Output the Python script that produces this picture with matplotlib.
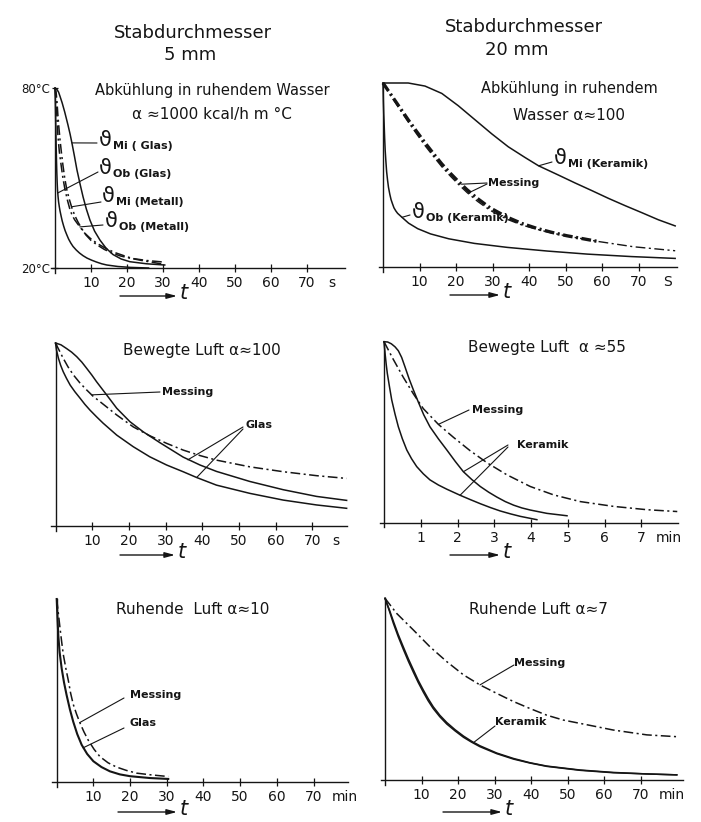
import matplotlib
matplotlib.use("Agg")
import matplotlib.pyplot as plt

W, H = 701, 822
INK = "#151515"
DASHDOT = (0, (7, 2.5, 1.5, 2.5))

plt.rcParams["font.family"] = ["DejaVu Sans"]
plt.rcParams["lines.scale_dashes"] = False

# ---- 5 mm rod, still water (t in s, T in degC)
w5_t_mi_glas = [0, 0.5, 1.0, 1.4, 2.0, 2.7, 3.6, 4.2, 4.7, 5.4, 6.1, 7.0, 7.8, 8.7, 9.7, 11.0,
                12.5, 14.2, 16.1, 18.4, 20.8, 25.5, 30.5]
w5_T_mi_glas = [80, 79.6, 78.6, 77.2, 75.0, 72.0, 67.7, 64.6, 61.7, 57.3, 52.7, 47.8, 43.7, 39.7,
                36.0, 32.3, 29.3, 26.6, 24.5, 23.0, 22.1, 21.4, 21.0]
w5_t_ob_glas = [0, 0.08, 0.15, 0.22, 0.3, 0.4, 0.5, 0.6, 0.7, 0.85, 1.0, 1.2, 1.4, 1.7, 2.0, 2.4,
                2.8, 3.3, 3.8, 4.4, 5.0, 5.9, 6.8, 7.8, 8.9, 10.2, 11.5, 13.0, 14.4, 17.5, 21.0, 26.0]
w5_T_ob_glas = [80, 76, 72, 67, 62, 56.5, 52, 48.6, 46, 43.8, 42, 40.4, 39, 37.3, 35.7, 34, 32.5,
                31, 29.6, 28.3, 27.2, 26, 25, 24.1, 23.3, 22.6, 22, 21.4, 21, 20.5, 20.2, 20.0]
w5_t_mi_met = [0, 0.3, 0.55, 0.8, 1.1, 1.4, 1.8, 2.2, 2.7, 3.3, 4.0, 4.7, 5.5, 6.4, 7.5, 8.6, 10.0,
               11.7, 13.7, 15.8, 18.2, 20.8, 25.5, 30]
w5_T_mi_met = [80, 78.7, 75.5, 71, 66.6, 62.7, 58.3, 54.3, 50, 46, 42.8, 40, 37.5, 35.3, 33, 31,
               29.2, 27.7, 26.2, 25, 24, 23.3, 22.5, 22]
w5_t_ob_met = [0, 0.3, 0.55, 0.8, 1.2, 1.7, 2.2, 2.8, 3.5, 4.2, 4.8, 5.5, 6.9, 8.2, 9.7, 11.7,
               13.9, 16.5, 19.4, 22, 25, 30]
w5_T_ob_met = [80, 76, 70, 64.3, 58.8, 54.3, 50, 46, 42.4, 39.3, 37.5, 36, 33.7, 31.7, 30, 28.2,
               26.7, 25.2, 24, 23, 22.3, 21.3]

# ---- 20 mm rod, still water
w20_t_mi_ker = [0, 6.9, 11.5, 16.1, 20.6, 25.2, 29.8, 34.3, 38.9, 42.6, 48.0, 52.6, 57.2, 61.7,
                66.3, 70.9, 75.4, 80]
w20_T_mi_ker = [80, 80, 79.0, 76.6, 72.6, 68.0, 63.4, 59.2, 55.7, 53.0, 50.0, 47.4, 44.9, 42.4,
                40.0, 37.7, 35.4, 33.4]
w20_t_mes = [0, 2.3, 4.6, 6.9, 9.2, 11.5, 13.8, 16.1, 18.4, 20.7, 23.0, 25.9, 29.3, 33.9, 38.0,
             42.1, 46.2, 50.3, 58.5, 68.6, 80.0]
w20_T_mes_mi = [80, 76.0, 72.0, 68.0, 64.2, 60.5, 57.0, 53.6, 50.6, 47.8, 45.2, 42.3, 39.3, 36.3,
                34.2, 32.6, 31.3, 30.2, 28.4, 26.6, 25.3]
w20_T_mes_ob = [80, 75.6, 71.4, 67.3, 63.4, 59.6, 56.1, 52.7, 49.7, 46.9, 44.3, 41.4, 38.5, 35.6,
                33.7, 32.3, 31.1, 30.1, 28.4, 26.6, 25.3]
w20_t_ob_ker = [0, 0.1, 0.2, 0.3, 0.45, 0.6, 0.8, 1.0, 1.25, 1.5, 1.85, 2.2, 2.6, 3.0, 3.5, 4.0,
                5.2, 7.0, 9.5, 13.0, 18.0, 25.0, 34.0, 45.0, 56.0, 68.0, 80.0]
w20_T_ob_ker = [80, 74, 70, 67, 62, 58, 54.3, 51, 48.3, 46, 43.8, 42, 40.6, 39.3, 38.3, 37.5,
                36.2, 34.3, 32.5, 30.8, 29.2, 27.7, 26.4, 25.2, 24.2, 23.4, 22.8]

# ---- 5 mm rod, moving air (s)
a5_t_glas_mi = [0, 1.5, 3.0, 4.4, 5.8, 7.2, 8.5, 9.9, 11.2, 12.6, 14.0, 16.7, 20.3, 23.9, 28.5,
                34.8, 39.4, 43.9, 53.0, 62.1, 71.2, 79.4]
a5_T_glas_mi = [80, 79.4, 78.2, 77.0, 75.5, 73.7, 71.7, 69.5, 67.3, 65.1, 62.9, 58.6, 54.2, 50.9,
                47.3, 42.6, 40.0, 37.9, 34.6, 31.9, 29.7, 28.4]
a5_t_glas_ob = [0, 0.3, 0.8, 1.4, 2.1, 3.0, 4.0, 5.3, 6.7, 8.0, 9.4, 11.2, 13.0, 16.7, 21.2, 25.7,
                30.3, 34.8, 38.5, 43.9, 53.0, 62.1, 71.2, 79.4]
a5_T_glas_ob = [80, 77.5, 75, 72.7, 70.6, 68.4, 66.2, 64.0, 61.9, 59.9, 58.0, 55.8, 53.7, 49.8,
                46.0, 42.7, 40.0, 37.8, 35.9, 33.4, 30.7, 28.5, 26.9, 25.8]
a5_t_mes = [0, 1.0, 2.1, 3.4, 4.9, 6.6, 8.5, 10.2, 12.1, 16.7, 21.2, 25.7, 30.3, 34.8, 39.4, 43.9,
            53.0, 62.1, 71.2, 79.4]
a5_T_mes = [80, 77.6, 75, 72.2, 69.5, 67.0, 64.6, 62.6, 60.8, 56.4, 52.5, 49.6, 47.1, 44.9, 43.1,
            41.6, 39.4, 37.8, 36.5, 35.6]

# ---- 20 mm rod, moving air (min)
a20_t_ker_mi = [0, 0.1, 0.2, 0.3, 0.39, 0.48, 0.57, 0.68, 0.8, 0.93, 1.08, 1.25, 1.48, 1.71, 1.94,
                2.16, 2.39, 2.62, 2.85, 3.07, 3.3, 3.53, 3.75, 3.98, 4.43, 4.98]
a20_T_ker_mi = [80, 79.9, 79.3, 78.3, 77.0, 74.8, 71.7, 67.8, 64.0, 60.1, 55.8, 51.8, 47.8, 44.1,
                40.3, 36.9, 34.3, 32.0, 30.1, 28.5, 27.0, 25.8, 24.9, 24.2, 23.1, 22.3]
a20_t_ker_ob = [0, 0.03, 0.06, 0.09, 0.15, 0.21, 0.3, 0.39, 0.5, 0.62, 0.75, 0.89, 1.07, 1.25,
                1.48, 1.71, 2.07, 2.34, 2.62, 2.9, 3.16, 3.45, 3.71, 4.16]
a20_T_ker_ob = [80, 76, 72.5, 69.5, 65, 60.7, 56, 51.8, 47.8, 44.1, 41.2, 38.6, 36.2, 34.2, 32.5,
                31.1, 29.1, 27.7, 26.3, 25.0, 23.9, 22.9, 22.1, 21.0]
a20_t_mes = [0, 0.25, 0.53, 0.8, 1.07, 1.48, 1.89, 2.34, 2.8, 3.34, 3.98, 4.62, 5.34, 6.25, 7.16,
             7.98]
a20_T_mes = [80, 74.2, 68.1, 62.7, 57.8, 52.6, 48.3, 43.9, 39.9, 35.9, 32.0, 29.2, 27.0, 25.4,
             24.3, 23.7]

# ---- 5 mm rod, still air (min)
r5_t_glas = [0, 0.2, 0.44, 0.8, 1.36, 2.0, 2.7, 3.6, 4.5, 5.6, 6.8, 8.3, 10.0, 12.2, 14.5, 17.2,
             20.0, 25.4, 30.4]
r5_T_glas = [80, 74, 68, 62.5, 57.2, 52.6, 48.5, 43.8, 39.8, 35.7, 32.2, 29.2, 26.8, 24.9, 23.5,
             22.5, 21.9, 21.3, 21.0]
r5_t_mes = [0, 0.45, 0.9, 1.35, 1.8, 2.5, 3.2, 3.8, 4.5, 5.4, 6.3, 7.4, 8.6, 10.2, 11.8, 14.0,
            16.3, 19.0, 21.8, 26.0, 30.4]
r5_T_mes = [80, 75.3, 70.5, 66, 61.8, 57.2, 53.1, 49.1, 45.5, 42.3, 39.5, 36.5, 33.7, 30.7, 28.3,
            26.3, 24.9, 23.8, 22.9, 22.3, 21.8]

# ---- 20 mm rod, still air (min)
r20_t_ker = [0, 1.2, 2.3, 3.6, 5.0, 6.4, 7.8, 9.1, 10.5, 11.8, 13.2, 15.0, 16.9, 19.2, 21.5, 23.7,
             26.0, 30.6, 35.2, 39.7, 44.3, 53.4, 62.5, 71.7, 79.9]
r20_T_ker_mi = [80, 76.2, 72.4, 68.1, 64.0, 60.0, 56.3, 52.9, 49.7, 46.9, 44.2, 41.4, 39.0, 36.6,
                34.5, 32.8, 31.3, 28.9, 27.1, 25.7, 24.6, 23.3, 22.5, 22.0, 21.7]
r20_T_ker_ob = [80, 75.8, 71.7, 67.4, 63.2, 59.2, 55.5, 52.2, 49.0, 46.2, 43.6, 40.9, 38.5, 36.2,
                34.1, 32.5, 31.0, 28.7, 26.9, 25.6, 24.5, 23.2, 22.4, 22.0, 21.7]
r20_t_mes = [0, 3.2, 7.8, 12.3, 16.9, 21.5, 26.0, 30.6, 35.2, 39.7, 44.3, 48.8, 53.4, 62.5, 71.7,
             79.9]
r20_T_mes = [80, 75.0, 69.5, 64.0, 59.1, 54.7, 51.4, 48.6, 45.9, 43.6, 41.4, 39.8, 38.7, 36.5,
             34.9, 34.3]

x_ticks_s = [10, 20, 30, 40, 50, 60, 70]
x_ticks_min = [1, 2, 3, 4, 5, 6, 7]


def fpx(x, y):
    # picture pixel (top-left origin) -> figure pixels
    return (x, H - y)


def ftext(x, y, s, **kw):
    kw.setdefault("color", INK)
    fig.text(x / W, 1 - y / H, s, **kw)


def panel(left, top, right, bottom, xmax, ticks, unit, unit_x):
    ax = fig.add_axes([left / W, 1 - bottom / H, (right - left) / W, (bottom - top) / H])
    ax.set_xlim(0, xmax)
    ax.set_ylim(20, 80)
    for s in ax.spines.values():
        s.set_visible(False)
    ax.plot([-0.015, 1], [0, 0], transform=ax.transAxes, color=INK, lw=1.0, clip_on=False)
    ax.plot([0, 0], [-0.025, 1], transform=ax.transAxes, color=INK, lw=1.0, clip_on=False)
    ax.set_yticks([])
    ax.set_xticks(ticks)
    ax.tick_params(axis="x", direction="inout", length=6, width=0.9, pad=3,
                   labelsize=10, colors=INK)
    ax.annotate(unit, xy=(unit_x, 20), xytext=(0, -6), textcoords="offset points",
                ha="center", va="top", fontsize=10, color=INK)
    return ax


def curve(ax, t, T, dash=False, lw=1.1):
    if dash:
        ax.plot(t, T, color=INK, lw=lw, linestyle=DASHDOT, clip_on=False)
    else:
        ax.plot(t, T, color=INK, lw=lw, clip_on=False, solid_joinstyle="round")


def leader(ax, target, start):
    ax.annotate("", xy=target, xycoords="data", xytext=fpx(*start), textcoords="figure pixels",
                arrowprops=dict(arrowstyle="-", lw=0.8, color=INK, shrinkA=0, shrinkB=0))


def theta_label(x, y, sub):
    ftext(x, y, "\u03d1", fontsize=15, ha="center", va="center")
    ftext(x + 8, y + 6, sub, fontsize=8, fontweight="bold", ha="left", va="center")


def time_arrow(x1, x2, y):
    fig.add_artist(matplotlib.patches.FancyArrowPatch(
        (x1 / W, 1 - y / H), (x2 / W, 1 - y / H), transform=fig.transFigure,
        arrowstyle="-|>,head_length=6,head_width=1.6", lw=1.0, color=INK,
        shrinkA=0, shrinkB=0))
    ftext(x2 + 7, y - 3, "t", fontsize=15, style="italic", ha="center", va="center")


fig = plt.figure(figsize=(W / 100, H / 100), dpi=100)
fig.patch.set_facecolor("white")

# column headers
ftext(193, 33, "Stabdurchmesser", fontsize=13, ha="center", va="center")
ftext(190, 55, "5 mm", fontsize=13, ha="center", va="center")
ftext(524, 27, "Stabdurchmesser", fontsize=13, ha="center", va="center")
ftext(517, 50, "20 mm", fontsize=13, ha="center", va="center")

# ---- top left
ax = panel(55, 88, 345, 268, 80.6, x_ticks_s, "s", 77)
ax.set_yticks([20, 80])
ax.set_yticklabels(["20°C", "80°C"])
ax.tick_params(axis="y", direction="inout", length=5, width=0.9, pad=1, labelsize=8.5, colors=INK)
curve(ax, w5_t_mi_glas, w5_T_mi_glas)
curve(ax, w5_t_ob_glas, w5_T_ob_glas)
curve(ax, w5_t_mi_met, w5_T_mi_met, dash=True)
curve(ax, w5_t_ob_met, w5_T_ob_met, dash=True)
ftext(212, 90, "Abkühlung in ruhendem Wasser", fontsize=10.5, ha="center", va="center")
ftext(212, 115, "\u03b1 \u22481000 kcal/h m °C", fontsize=11, ha="center", va="center")
theta_label(105, 140, "Mi ( Glas)")
leader(ax, (4.7, 61.7), (97, 143))
theta_label(105, 168, "Ob (Glas)")
leader(ax, (0.75, 45.0), (98, 172))
theta_label(108, 196, "Mi (Metall)")
leader(ax, (4.6, 40.4), (101, 202))
theta_label(111, 221, "Ob (Metall)")
leader(ax, (6.9, 33.7), (103, 225))
time_arrow(120, 177, 296)

# ---- top right
ax = panel(383, 83, 677, 267, 80.5, x_ticks_s, "S", 78)
curve(ax, w20_t_mi_ker, w20_T_mi_ker)
curve(ax, w20_t_ob_ker, w20_T_ob_ker)
curve(ax, w20_t_mes[:19], w20_T_mes_mi[:19], dash=True, lw=2.4)
curve(ax, w20_t_mes, w20_T_mes_ob, dash=True, lw=1.0)
ftext(569, 88, "Abkühlung in ruhendem", fontsize=10.5, ha="center", va="center")
ftext(569, 115, "Wasser \u03b1\u2248100", fontsize=11, ha="center", va="center")
theta_label(560, 158, "Mi (Keramik)")
leader(ax, (42.6, 53.0), (552, 162))
ftext(488, 183, "Messing", fontsize=8, fontweight="bold", ha="left", va="center")
leader(ax, (21.5, 47.0), (487, 183))
leader(ax, (23.5, 44.2), (487, 184))
theta_label(418, 212, "Ob (Keramik)")
leader(ax, (5.2, 36.2), (410, 215))
time_arrow(450, 500, 295)

# ---- middle left
ax = panel(55.5, 343, 347, 526, 79.5, x_ticks_s, "s", 76.5)
curve(ax, a5_t_glas_mi, a5_T_glas_mi)
curve(ax, a5_t_glas_ob, a5_T_glas_ob)
curve(ax, a5_t_mes, a5_T_mes, dash=True)
ftext(202, 350, "Bewegte Luft \u03b1\u2248100", fontsize=11, ha="center", va="center")
ftext(162, 392, "Messing", fontsize=8, fontweight="bold", ha="left", va="center")
leader(ax, (9.9, 63.0), (160, 392))
ftext(246, 425, "Glas", fontsize=8, fontweight="bold", ha="left", va="center")
leader(ax, (36.1, 41.7), (243, 427))
leader(ax, (38.5, 35.9), (243, 429))
time_arrow(120, 175, 555)

# ---- middle right
ax = panel(384, 341.7, 678, 522.7, 8.0, x_ticks_min, "min", 7.75)
curve(ax, a20_t_ker_mi, a20_T_ker_mi)
curve(ax, a20_t_ker_ob, a20_T_ker_ob)
curve(ax, a20_t_mes, a20_T_mes, dash=True)
ftext(547, 347, "Bewegte Luft  \u03b1 \u224855", fontsize=11, ha="center", va="center")
ftext(472, 410, "Messing", fontsize=8, fontweight="bold", ha="left", va="center")
leader(ax, (1.48, 52.6), (469, 410))
ftext(517, 445, "Keramik", fontsize=8, fontweight="bold", ha="left", va="center")
leader(ax, (2.16, 36.9), (508, 445))
leader(ax, (2.07, 29.1), (508, 447))
time_arrow(450, 500, 555)

# ---- bottom left
ax = panel(56.7, 599, 348, 782, 79.4, x_ticks_s, "min", 78.5)
curve(ax, r5_t_glas, r5_T_glas, lw=1.5)
curve(ax, r5_t_mes, r5_T_mes, dash=True)
ftext(193, 610, "Ruhende  Luft \u03b1\u224810", fontsize=11, ha="center", va="center")
ftext(130, 695, "Messing", fontsize=8, fontweight="bold", ha="left", va="center")
leader(ax, (6.3, 39.5), (124, 698))
ftext(130, 723, "Glas", fontsize=8, fontweight="bold", ha="left", va="center")
leader(ax, (7.2, 31.2), (124, 728))
time_arrow(118, 177, 812)

# ---- bottom right
ax = panel(385, 598.3, 683, 780, 81.6, x_ticks_s, "min", 78.5)
curve(ax, r20_t_ker, r20_T_ker_mi)
curve(ax, r20_t_ker, r20_T_ker_ob)
curve(ax, r20_t_mes, r20_T_mes, dash=True)
ftext(538, 610, "Ruhende Luft \u03b1\u22487", fontsize=11, ha="center", va="center")
ftext(514, 663, "Messing", fontsize=8, fontweight="bold", ha="left", va="center")
leader(ax, (26.0, 51.4), (514, 665))
ftext(495, 722, "Keramik", fontsize=8, fontweight="bold", ha="left", va="center")
leader(ax, (24.5, 32.6), (495, 726))
time_arrow(443, 502, 812)

fig.savefig("out.png", dpi=100, facecolor="white")
